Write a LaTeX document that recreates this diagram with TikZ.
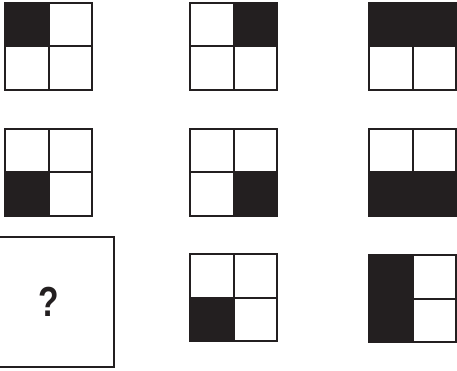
\documentclass[tikz,border=0pt]{standalone}
\usepackage{fontspec}
\setsansfont{Liberation Sans}
\usetikzlibrary{positioning}
\definecolor{ink}{HTML}{231F20}

\begin{document}
\begin{tikzpicture}[x=1pt,y=-1pt,line width=2pt,
  frame/.style={draw=ink},
  dark/.style={fill=ink}]
\useasboundingbox (0,0) rectangle (457,371);

\begin{scope}[shift={(5,3)}]
\fill[dark] (0,0) rectangle (43.5,43.5);
\draw[frame] (0,0) rectangle (87,87) (43.5,0)--(43.5,87) (0,43.5)--(87,43.5);
\end{scope}

\begin{scope}[shift={(190,3)}]
\fill[dark] (43.5,0) rectangle (87,43.5);
\draw[frame] (0,0) rectangle (87,87) (43.5,0)--(43.5,87) (0,43.5)--(87,43.5);
\end{scope}

\begin{scope}[shift={(369,3)}]
\fill[dark] (0,0) rectangle (87,43.5);
\draw[frame] (0,0) rectangle (87,87) (43.5,0)--(43.5,87) (0,43.5)--(87,43.5);
\end{scope}

\begin{scope}[shift={(5,129)}]
\fill[dark] (0,43.5) rectangle (43.5,87);
\draw[frame] (0,0) rectangle (87,87) (43.5,0)--(43.5,87) (0,43.5)--(87,43.5);
\end{scope}

\begin{scope}[shift={(190,129)}]
\fill[dark] (43.5,43.5) rectangle (87,87);
\draw[frame] (0,0) rectangle (87,87) (43.5,0)--(43.5,87) (0,43.5)--(87,43.5);
\end{scope}

\begin{scope}[shift={(369,129)}]
\fill[dark] (0,43.5) rectangle (87,87);
\draw[frame] (0,0) rectangle (87,87) (43.5,0)--(43.5,87) (0,43.5)--(87,43.5);
\end{scope}

\node[frame, minimum width=130pt, minimum height=130pt, text=ink,
  font=\sffamily\bfseries\fontsize{42}{42}\selectfont] (ask) at (49,302) {\scalebox{0.8}[1]{?}};

\begin{scope}[shift={(190,254)}]
\fill[dark] (0,43.5) rectangle (43.5,87);
\draw[frame] (0,0) rectangle (87,87) (43.5,0)--(43.5,87) (0,43.5)--(87,43.5);
\end{scope}

\begin{scope}[shift={(369,255)}]
\fill[dark] (0,0) rectangle (43.5,87);
\draw[frame] (0,0) rectangle (87,87) (43.5,0)--(43.5,87) (0,43.5)--(87,43.5);
\end{scope}

\end{tikzpicture}
\end{document}
